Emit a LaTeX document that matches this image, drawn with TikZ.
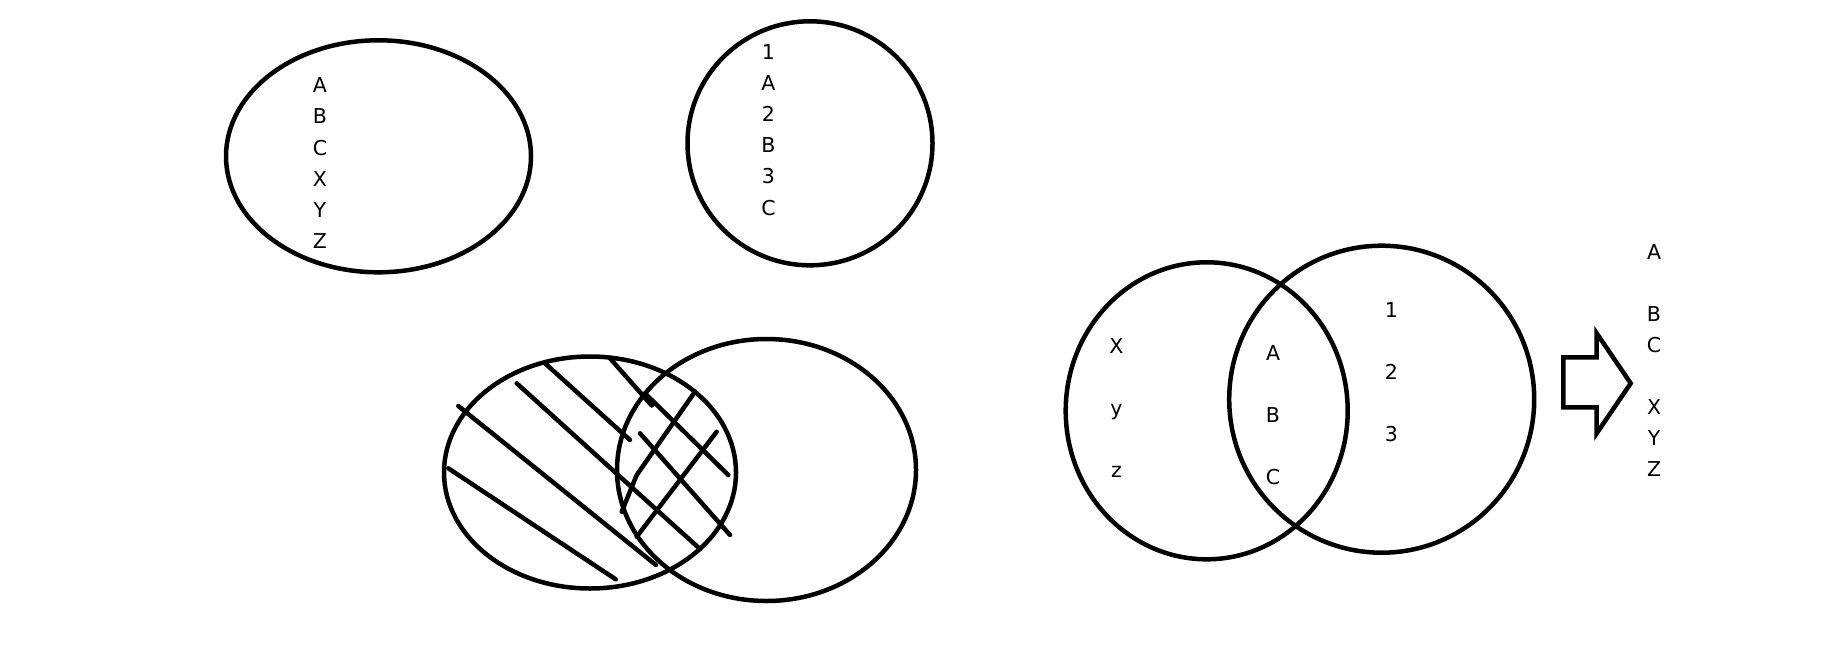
\documentclass[tikz,border=0pt]{standalone}
\usepackage{fontspec}
\setmainfont{DejaVu Sans}
\usetikzlibrary{shapes.geometric}

\begin{document}
\begin{tikzpicture}[
    x=1pt, y=-1pt,
    every node/.style={align=center},
    set/.style={
        draw,
        ellipse,
        line width=4.5pt,
        inner sep=0pt
    },
    items/.style={
        anchor=north,
        inner sep=0pt,
        font=\fontsize{20.5}{31.2}\selectfont
    },
    spread/.style={
        items,
        font=\fontsize{20.5}{61.7}\selectfont
    },
    hatch/.style={
        line width=4.5pt,
        line cap=round,
        line join=round
    },
    bigarrow/.style={
        line width=4.5pt,
        line join=miter
    }
]

\useasboundingbox (0,0) rectangle (1828,648);

\node[set, minimum width=305pt, minimum height=232pt] (setA) at (378.5,156.3) {};
\node[items] (listA) at (320,77.5) {A\\B\\C\\X\\Y\\Z};

\node[set, minimum width=245pt, minimum height=244pt] (setB) at (810,143.3) {};
\node[items] (listB) at (768.5,44) {1\\A\\2\\B\\3\\C};

\node[set, minimum width=292pt, minimum height=232pt] (setC) at (590,472.5) {};
\node[set, minimum width=299pt, minimum height=262pt] (setD) at (766.5,470) {};

\draw[hatch] (448.3,468.3) -- (615.7,579.3);
\draw[hatch] (458.3,406) -- (656,565);
\draw[hatch] (516.7,383.3) -- (700,549);
\draw[hatch] (545,363.3) -- (630,440);
\draw[hatch] (610,358.3) -- (651.7,405.5);
\draw[hatch] (645,393.3) -- (728.3,475);
\draw[hatch] (640,433.3) -- (730,535);
\draw[hatch] (621.7,511.7) -- (636.7,475) -- (695,391.7);
\draw[hatch] (636.7,536.7) -- (716.7,431.7);

\node[set, minimum width=282pt, minimum height=297pt] (setE) at (1206.7,410.8) {};
\node[set, minimum width=305pt, minimum height=307pt] (setF) at (1381.7,399.2) {};

\node[spread] (onlyE) at (1116.5,338.5) {X\\y\\z};
\node[spread] (both) at (1273,345.8) {A\\B\\C};
\node[spread] (onlyF) at (1391.5,302.5) {1\\2\\3};

\draw[bigarrow] (1563.3,357.3) -- (1596.7,357.3) -- (1596.7,333.3) -- (1630.7,383.3)
    -- (1596.7,433.3) -- (1596.7,407.3) -- (1563.3,407.3) -- cycle;

\node[items] (result) at (1654,244.2) {A\\[30.8pt]B\\C\\[30.8pt]X\\Y\\Z};

\end{tikzpicture}
\end{document}
